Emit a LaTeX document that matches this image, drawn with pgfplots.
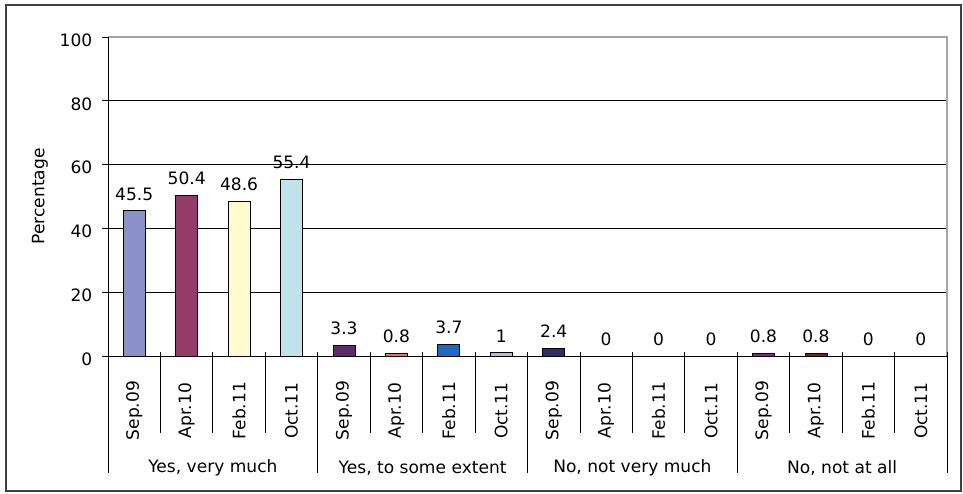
\documentclass[border=0pt]{standalone}
\usepackage{pgfplots}
\pgfplotsset{compat=1.18}
\usepackage{fontspec}
\setmainfont{DejaVu Sans}

\newcommand{\lblfont}{\fontsize{12.8}{15}\selectfont}

% bar colours, one per survey round and answer
\definecolor{frameC}{HTML}{404040}
\definecolor{borderC}{HTML}{A6A6A6}
\definecolor{cA}{HTML}{8B90C8}
\definecolor{cB}{HTML}{943B68}
\definecolor{cC}{HTML}{FFFBCC}
\definecolor{cD}{HTML}{C0E4EA}
\definecolor{cE}{HTML}{5E2A6A}
\definecolor{cF}{HTML}{E8746E}
\definecolor{cG}{HTML}{1F6ABF}
\definecolor{cH}{HTML}{B8BADA}
\definecolor{cI}{HTML}{2E2E64}
\definecolor{cJ}{HTML}{7B2B8B}
\definecolor{cK}{HTML}{7A1F1F}

\begin{document}
\begin{tikzpicture}
\path[use as bounding box] (0,0) rectangle (722.25pt,369.75pt);
\draw[line width=1.5pt, color=frameC] (4.5pt,1.5pt) rectangle (720.75pt,366pt);
\begin{axis}[
  at={(81pt,102.75pt)}, anchor=south west,
  scale only axis, width=629.25pt, height=239.25pt,
  clip=false,
  xmin=-0.5, xmax=15.5, ymin=0, ymax=100,
  ybar, bar width=16.5pt,
  axis line style={draw=none},
  /pgf/number format/assume math mode=true,
  ytick={0,20,...,100},
  ymajorgrids, grid style={black, line width=0.6pt},
  ytick pos=left, tick align=outside, major tick length=4.5pt,
  ytick style={black, line width=0.6pt},
  yticklabel style={font=\lblfont, yshift=-2.25pt, xshift=-3.75pt},
  xtick={0,...,15},
  xtick style={draw=none},
  xticklabels={Sep.09,Apr.10,Feb.11,Oct.11,Sep.09,Apr.10,Feb.11,Oct.11,
               Sep.09,Apr.10,Feb.11,Oct.11,Sep.09,Apr.10,Feb.11,Oct.11},
  xticklabel style={font=\lblfont, anchor=center, yshift=-36.5pt, rotate=90},
  extra x ticks={1.5,5.5,9.5,13.5},
  extra x tick labels={{Yes, very much},{Yes, to some extent},{No, not very much},{No, not at all}},
  extra x tick style={grid=none, xticklabel style={rotate=-90, yshift=-43pt}},
  ylabel={Percentage},
  ylabel style={font=\lblfont, at={(axis description cs:-0.081,0.5)}, anchor=center},
  nodes near coords,
  every node near coord/.append style={font=\lblfont, anchor=south, inner sep=0pt, yshift=7.5pt, black},
  every axis plot/.append style={draw=black, line width=0.6pt, bar shift=0pt},
]
% Yes, very much
\addplot[fill=cA] coordinates {(0,45.5)};
\addplot[fill=cB] coordinates {(1,50.4)};
\addplot[fill=cC] coordinates {(2,48.6)};
\addplot[fill=cD] coordinates {(3,55.4)};
% Yes, to some extent
\addplot[fill=cE] coordinates {(4,3.3)};
\addplot[fill=cF] coordinates {(5,0.8)};
\addplot[fill=cG] coordinates {(6,3.7)};
\addplot[fill=cH] coordinates {(7,1)};
% No, not very much
\addplot[fill=cI] coordinates {(8,2.4)};
\addplot[fill=cB] coordinates {(9,0)};
\addplot[fill=cC] coordinates {(10,0)};
\addplot[fill=cD] coordinates {(11,0)};
% No, not at all
\addplot[fill=cJ] coordinates {(12,0.8)};
\addplot[fill=cK] coordinates {(13,0.8)};
\addplot[fill=cC] coordinates {(14,0)};
\addplot[fill=cD] coordinates {(15,0)};

% plot-area border: grey top and right, black left and bottom
\draw[borderC, line width=1.2pt] (rel axis cs:0,1) -- (rel axis cs:1,1) -- (rel axis cs:1,0);
\draw[black, line width=0.6pt] (rel axis cs:0,1) -- (rel axis cs:0,0) -- (rel axis cs:1,0);

% separators between the category labels
\pgfplotsinvokeforeach{0.5,1.5,2.5,4.5,5.5,6.5,8.5,9.5,10.5,12.5,13.5,14.5}{
  \draw[black, line width=0.6pt] ([yshift=3pt]axis cs:#1,0) -- ([yshift=-57.75pt]axis cs:#1,0);
}
\pgfplotsinvokeforeach{-0.5,3.5,7.5,11.5,15.5}{
  \draw[black, line width=0.6pt] ([yshift=3pt]axis cs:#1,0) -- ([yshift=-87.75pt]axis cs:#1,0);
}
\end{axis}
\end{tikzpicture}
\end{document}
